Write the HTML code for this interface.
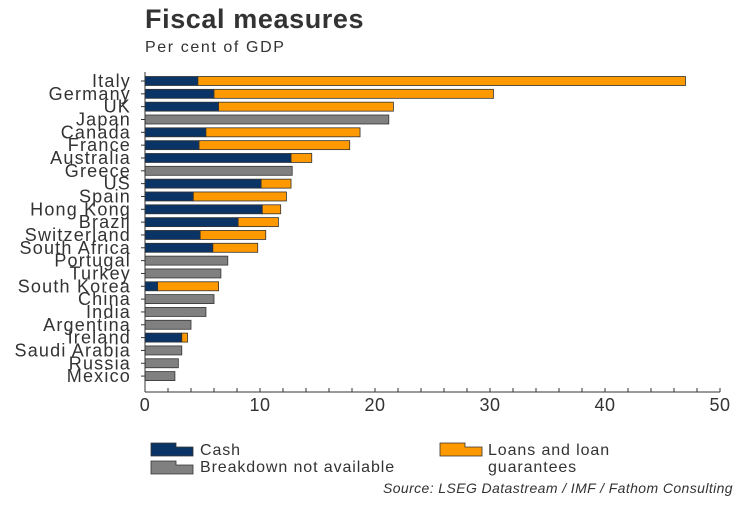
<!DOCTYPE html>
<html><head><meta charset="utf-8"><style>
body{margin:0;background:#fff;font-family:"Liberation Sans",sans-serif;}
svg text{font-family:"Liberation Sans",sans-serif;fill:#333;}
</style></head><body>
<svg width="750" height="500" viewBox="0 0 750 500" xmlns="http://www.w3.org/2000/svg">
<text x="145" y="28" font-size="27" font-weight="bold" letter-spacing="0.6">Fiscal measures</text>
<text x="145" y="52" font-size="16" letter-spacing="1.6">Per cent of GDP</text>
<g id="plot"></g>
<g>
<path d="M151,443h25v4h17v9h-42z" fill="#0b3466" stroke="#333" stroke-width="0.8"/>
<text x="200" y="455" font-size="16" letter-spacing="0.9">Cash</text>
<path d="M151,461h25v4h17v9h-42z" fill="#808080" stroke="#333" stroke-width="0.8"/>
<text x="200" y="472" font-size="16" letter-spacing="0.9">Breakdown not available</text>
<path d="M440,443h25v4h17v9h-42z" fill="#ff9900" stroke="#333" stroke-width="0.8"/>
<text x="488" y="455" font-size="16" letter-spacing="0.9">Loans and loan</text>
<text x="488" y="472" font-size="16" letter-spacing="0.9">guarantees</text>
</g>
<text x="733" y="493" font-size="14" font-style="italic" letter-spacing="0.4" text-anchor="end">Source: LSEG Datastream / IMF / Fathom Consulting</text>
</svg>
<script>
const categories=["Italy","Germany","UK","Japan","Canada","France","Australia","Greece","US","Spain","Hong Kong","Brazil","Switzerland","South Africa","Portugal","Turkey","South Korea","China","India","Argentina","Ireland","Saudi Arabia","Russia","Mexico"];
const cash=[4.6,6.0,6.4,null,5.3,4.7,12.7,null,10.1,4.2,10.2,8.1,4.8,5.9,null,null,1.1,null,null,null,3.2,null,null,null];
const totals=[47.0,30.3,21.6,21.2,18.7,17.8,14.5,12.8,12.7,12.3,11.8,11.6,10.5,9.8,7.2,6.6,6.4,6.0,5.3,4.0,3.7,3.2,2.9,2.6];
const xTicks=[0,10,20,30,40,50];
const NS="http://www.w3.org/2000/svg";
const g=document.getElementById('plot');
const x0=145,pxPer=11.5,yTop=81,step=12.83,barH=9,axisBottom=392;
function xs(v){return x0+v*pxPer;}
function ys(i){return yTop+i*step;}
function mk(t,a){const e=document.createElementNS(NS,t);for(const k in a)e.setAttribute(k,a[k]);g.appendChild(e);return e;}
categories.forEach((c,i)=>{
  const y=ys(i);
  const t=mk('text',{x:131,y:y+6,'font-size':18,'letter-spacing':1.2,'text-anchor':'end'});t.textContent=c;
  
  
  const tk=mk('line',{x1:141,x2:145,y1:y,y2:y,stroke:'#333'});
  
  
  if(cash[i]==null){
    const r=mk('rect',{x:xs(0),y:y-barH/2,width:xs(totals[i])-xs(0),height:barH,fill:'#808080',stroke:'#333','stroke-width':0.8});
    
    
  }else{
    const r1=mk('rect',{x:xs(0),y:y-barH/2,width:xs(cash[i])-xs(0),height:barH,fill:'#0b3466',stroke:'#333','stroke-width':0.8});
    
    
    const r2=mk('rect',{x:xs(cash[i]),y:y-barH/2,width:xs(totals[i])-xs(cash[i]),height:barH,fill:'#ff9900',stroke:'#333','stroke-width':0.8});
    
    
  }
});
const ya=mk('line',{x1:145,x2:145,y1:72,y2:axisBottom,stroke:'#333'});


const xa=mk('line',{x1:145,x2:xs(50),y1:axisBottom,y2:axisBottom,stroke:'#333'});


for(let v=0;v<=50;v+=2){
  const m=mk('line',{x1:xs(v),x2:xs(v),y1:axisBottom,y2:axisBottom-4,stroke:'#333'});
  
  
}
xTicks.forEach(v=>{
  const t=mk('text',{x:xs(v),y:axisBottom+19,'font-size':18,'letter-spacing':0.5,'text-anchor':'middle'});t.textContent=v;
  
  
});
</script>
</body></html>
